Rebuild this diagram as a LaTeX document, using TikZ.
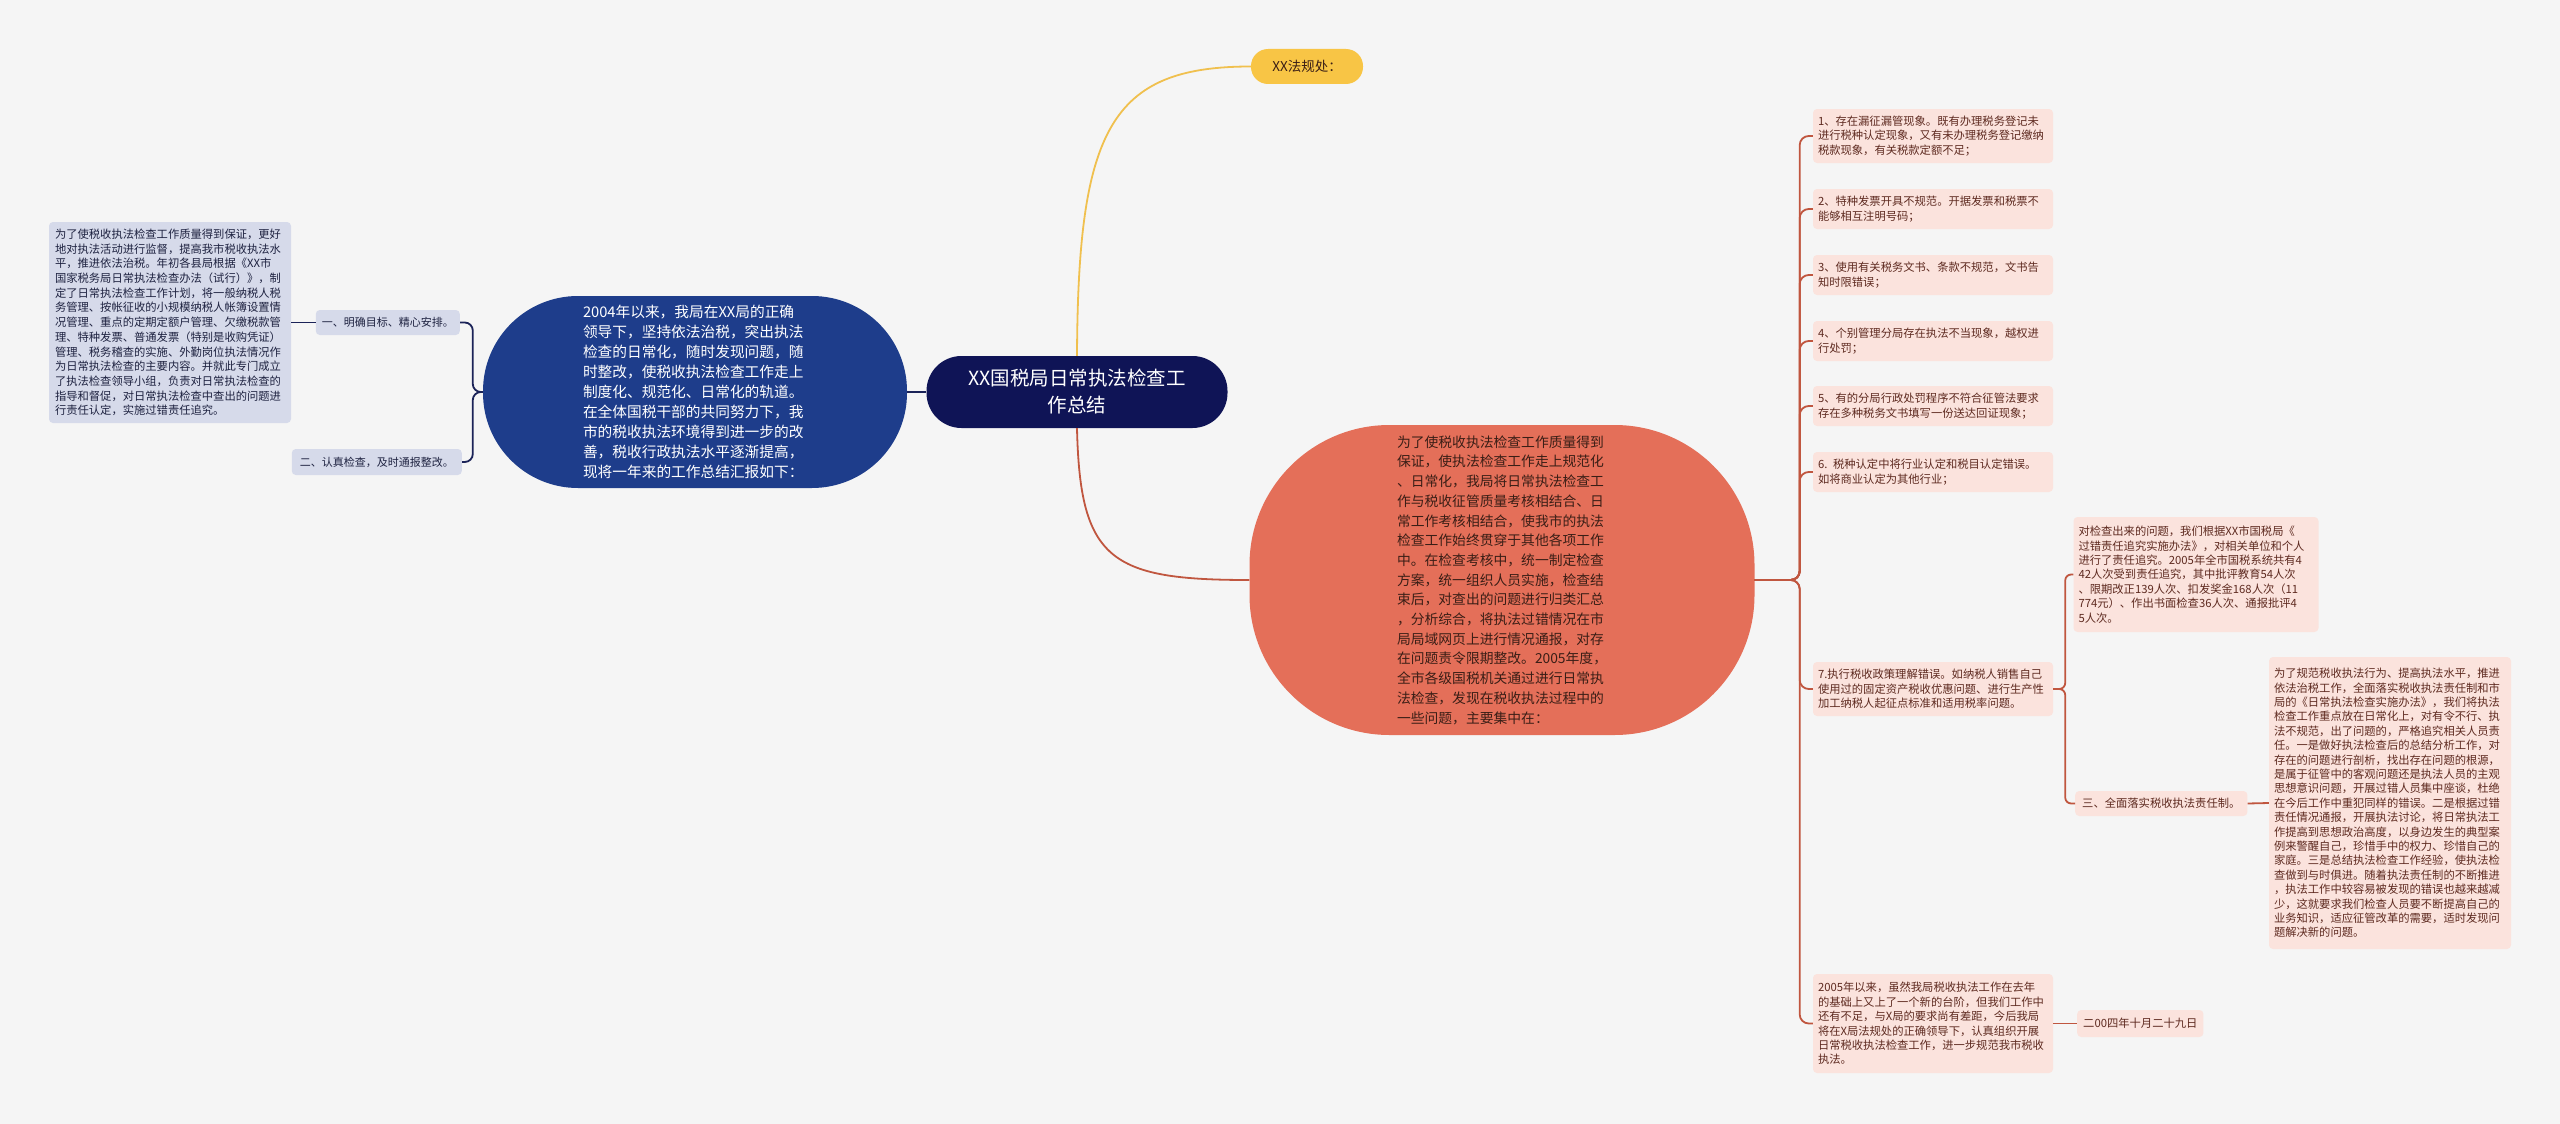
\documentclass[tikz,border=0pt]{standalone}
\usepackage{fontspec}
\setmainfont{Noto Sans CJK SC}
\definecolor{bgcol}{HTML}{F5F5F5}
\definecolor{rootcol}{HTML}{0F1456}
\definecolor{introcol}{HTML}{1E3D8B}
\definecolor{navycol}{HTML}{1B2358}
\definecolor{lavcol}{HTML}{D6DAEA}
\definecolor{lavtext}{HTML}{1E2240}
\definecolor{yelcol}{HTML}{F8C545}
\definecolor{yeldraw}{HTML}{F0C04E}
\definecolor{orcol}{HTML}{E46F59}
\definecolor{ortext}{HTML}{3A1E16}
\definecolor{reddraw}{HTML}{C0563F}
\definecolor{pinkcol}{HTML}{FBE3DD}
\definecolor{pinktext}{HTML}{5E2A20}

\tikzset{
  rootnode/.style={fill=rootcol, text=white, rounded corners=35pt, minimum width=301pt,
    minimum height=72pt, align=center, font=\fontsize{19.5}{27}\selectfont},
  leftbox/.style={fill=lavcol, text=lavtext, rounded corners=4pt, inner xsep=6pt, inner ysep=3pt,
    align=left, font=\fontsize{11.3}{14.7}\selectfont},
  rightbox/.style={fill=pinkcol, text=pinktext, rounded corners=4pt, inner xsep=5pt, inner ysep=3pt,
    align=left, font=\fontsize{11.3}{14.4}\selectfont},
  navyline/.style={draw=navycol, line width=1.8pt},
  redline/.style={draw=reddraw, line width=1.8pt},
  yelline/.style={draw=yeldraw, line width=1.8pt}
}

\begin{document}
\begin{tikzpicture}[x=1pt, y=-1pt]
  \useasboundingbox (0,0) rectangle (2560,1124);
  \fill[bgcol] (0,0) rectangle (2560,1124);

  % centre and main topics
  \node[rootnode] (root) at (1077,392) {XX国税局日常执法检查工\\作总结};
  \node[fill=introcol, text=white, rounded corners=95pt, minimum width=424pt, minimum height=192pt,
    text width=224pt, align=left, font=\fontsize{14.7}{20.1}\selectfont] (intro) at (695,392)
    {2004年以来，我局在XX局的正确\\领导下，坚持依法治税，突出执法\\检查的日常化，随时发现问题，随\\时整改，使税收执法检查工作走上\\制度化、规范化、日常化的轨道。\\在全体国税干部的共同努力下，我\\市的税收执法环境得到进一步的改\\善，税收行政执法水平逐渐提高，\\现将一年来的工作总结汇报如下：};
  \node[fill=yelcol, text=ortext, rounded corners=17pt, minimum width=112pt, minimum height=35pt,
    font=\fontsize{13.5}{16}\selectfont] (law) at (1307,66.5) {XX法规处：};
  \node[fill=orcol, text=ortext, rounded corners=140pt, minimum width=505pt, minimum height=310pt,
    text width=210pt, align=left, font=\fontsize{13.8}{19.7}\selectfont] (issues) at (1502,580)
    {为了使税收执法检查工作质量得到\\保证，使执法检查工作走上规范化\\、日常化，我局将日常执法检查工\\作与税收征管质量考核相结合、日\\常工作考核相结合，使我市的执法\\检查工作始终贯穿于其他各项工作\\中。在检查考核中，统一制定检查\\方案，统一组织人员实施，检查结\\束后，对查出的问题进行归类汇总\\，分析综合，将执法过错情况在市\\局局域网页上进行情况通报，对存\\在问题责令限期整改。2005年度，\\全市各级国税机关通过进行日常执\\法检查，发现在税收执法过程中的\\一些问题，主要集中在：};

  % left side
  \node[leftbox, text width=230pt, minimum height=201pt] (plan) at (170,322.5)
    {为了使税收执法检查工作质量得到保证，更好\\地对执法活动进行监督，提高我市税收执法水\\平，推进依法治税。年初各县局根据《XX市\\国家税务局日常执法检查办法（试行）》，制\\定了日常执法检查工作计划，将一般纳税人税\\务管理、按帐征收的小规模纳税人帐簿设置情\\况管理、重点的定期定额户管理、欠缴税款管\\理、特种发票、普通发票（特别是收购凭证）\\管理、税务稽查的实施、外勤岗位执法情况作\\为日常执法检查的主要内容。并就此专门成立\\了执法检查领导小组，负责对日常执法检查的\\指导和督促，对日常执法检查中查出的问题进\\行责任认定，实施过错责任追究。};
  \node[leftbox, font=\fontsize{11}{14}\selectfont, minimum height=25pt, anchor=east] (aim) at (460,322.5)
    {一、明确目标、精心安排。};
  \node[leftbox, font=\fontsize{11}{14}\selectfont, minimum height=26pt, inner xsep=8pt, anchor=east] (check) at (462,462)
    {二、认真检查，及时通报整改。};

  % right side
  \node[rightbox, text width=230pt, minimum height=54pt] (p1) at (1933,136)
    {1、存在漏征漏管现象。既有办理税务登记未\\进行税种认定现象，又有未办理税务登记缴纳\\税款现象，有关税款定额不足；};
  \node[rightbox, text width=230pt, minimum height=40pt] (p2) at (1933,209)
    {2、特种发票开具不规范。开据发票和税票不\\能够相互注明号码；};
  \node[rightbox, text width=230pt, minimum height=40pt] (p3) at (1933,275)
    {3、使用有关税务文书、条款不规范，文书告\\知时限错误；};
  \node[rightbox, text width=230pt, minimum height=40pt] (p4) at (1933,341)
    {4、个别管理分局存在执法不当现象，越权进\\行处罚；};
  \node[rightbox, text width=230pt, minimum height=40pt] (p5) at (1933,406)
    {5、有的分局行政处罚程序不符合征管法要求\\存在多种税务文书填写一份送达回证现象；};
  \node[rightbox, text width=230pt, minimum height=40pt] (p6) at (1933,472)
    {6. 税种认定中将行业认定和税目认定错误。\\如将商业认定为其他行业；};
  \node[rightbox, text width=230pt, minimum height=54pt] (p7) at (1933,689)
    {7.执行税收政策理解错误。如纳税人销售自己\\使用过的固定资产税收优惠问题、进行生产性\\加工纳税人起征点标准和适用税率问题。};
  \node[rightbox, text width=235pt, minimum height=115pt] (fine) at (2196,574.5)
    {对检查出来的问题，我们根据XX市国税局《\\过错责任追究实施办法》，对相关单位和个人\\进行了责任追究。2005年全市国税系统共有4\\42人次受到责任追究，其中批评教育54人次\\、限期改正139人次、扣发奖金168人次（11\\774元）、作出书面检查36人次、通报批评4\\5人次。};
  \node[rightbox, minimum height=25pt, inner xsep=7pt, anchor=west] (duty) at (2075,803.5)
    {三、全面落实税收执法责任制。};
  \node[rightbox, text width=232pt, minimum height=292pt] (dutytext) at (2390,803)
    {为了规范税收执法行为、提高执法水平，推进\\依法治税工作，全面落实税收执法责任制和市\\局的《日常执法检查实施办法》，我们将执法\\检查工作重点放在日常化上，对有令不行、执\\法不规范，出了问题的，严格追究相关人员责\\任。一是做好执法检查后的总结分析工作，对\\存在的问题进行剖析，找出存在问题的根源，\\是属于征管中的客观问题还是执法人员的主观\\思想意识问题，开展过错人员集中座谈，杜绝\\在今后工作中重犯同样的错误。二是根据过错\\责任情况通报，开展执法讨论，将日常执法工\\作提高到思想政治高度，以身边发生的典型案\\例来警醒自己，珍惜手中的权力、珍惜自己的\\家庭。三是总结执法检查工作经验，使执法检\\查做到与时俱进。随着执法责任制的不断推进\\，执法工作中较容易被发现的错误也越来越减\\少，这就要求我们检查人员要不断提高自己的\\业务知识，适应征管改革的需要，适时发现问\\题解决新的问题。};
  \node[rightbox, text width=230pt, minimum height=99pt] (sum) at (1933,1023.5)
    {2005年以来，虽然我局税收执法工作在去年\\的基础上又上了一个新的台阶，但我们工作中\\还有不足，与X局的要求尚有差距，今后我局\\将在X局法规处的正确领导下，认真组织开展\\日常税收执法检查工作，进一步规范我市税收\\执法。};
  \node[rightbox, minimum height=27pt, inner xsep=6pt, anchor=west] (date) at (2077,1023.5)
    {二00四年十月二十九日};

  % connectors
  \draw[navyline] (root.west) -- (intro.east);
  \draw[yelline] (root.north) .. controls (1078,130) and (1110,66.5) .. (law.west);
  \draw[redline] (root.south) .. controls (1080,560) and (1110,580) .. (issues.west);
  \draw[navyline, rounded corners=8pt] (intro.west) -- ++(-10,0) |- (aim.east);
  \draw[navyline, rounded corners=8pt] (intro.west) -- ++(-10,0) |- (check.east);
  \draw[navyline] (aim.west) -- (plan.east);
  \foreach \p in {p1,p2,p3,p4,p5,p6,p7,sum}
    \draw[redline, rounded corners=9pt] (issues.east) -- ++(45,0) |- (\p.west);
  \draw[redline, rounded corners=6pt] (p7.east) -- ++(12,0) |- (fine.west);
  \draw[redline, rounded corners=6pt] (p7.east) -- ++(12,0) |- (duty.west);
  \draw[redline] (duty.east) -- (dutytext.west);
  \draw[redline] (sum.east) -- (date.west);
\end{tikzpicture}
\end{document}
